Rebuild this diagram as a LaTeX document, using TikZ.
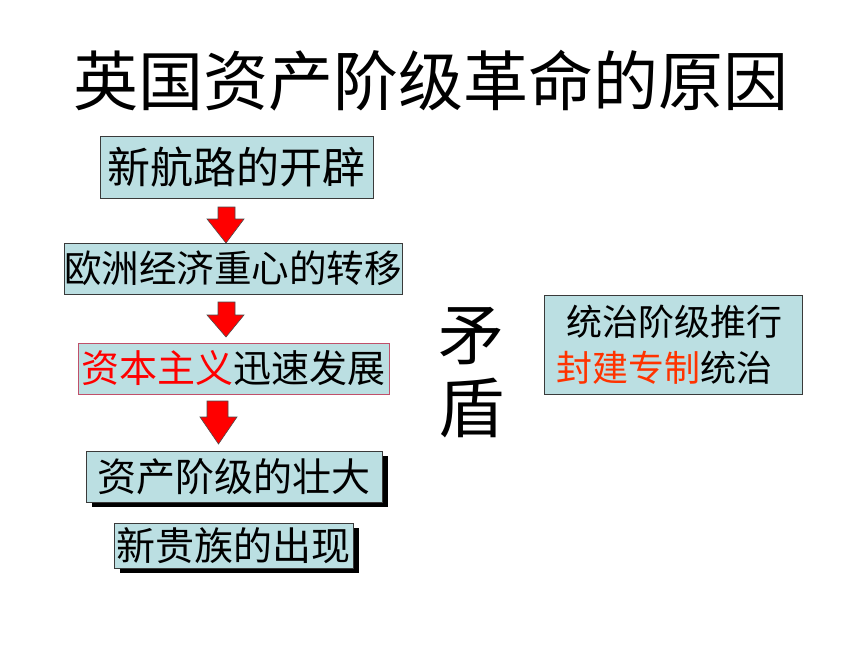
\documentclass[tikz,border=0pt]{standalone}
\usepackage{fontspec}
\usepackage{graphicx}
\setmainfont{Noto Sans CJK SC}
\definecolor{boxfill}{HTML}{BBDFE2}
\definecolor{boxline}{HTML}{3A3A3A}
\definecolor{redline}{HTML}{C0506A}
\definecolor{orangered}{HTML}{FF3300}
\tikzset{
  box/.style={draw=boxline, line width=0.9pt, fill=boxfill, inner sep=0pt},
  shadowbox/.style={fill=black, inner sep=0pt},
  txt/.style={inner sep=0pt, text=black},
  blockarr/.style={fill=red, draw=black!70, line width=0.6pt, line join=miter},
}
\begin{document}
\begin{tikzpicture}[x=1pt,y=-1pt]
\useasboundingbox[fill=white] (0,0) rectangle (860,645);
% title
\node[txt, font=\fontsize{65}{65}\selectfont] (title) at (431,81) {英国资产阶级革命的原因};
% box 1
\node[box, minimum width=273pt, minimum height=62pt] (b1) at (236.5,167) {};
\node[txt, font=\fontsize{43}{43}\selectfont] (t1) at (b1.center) {新航路的开辟};
% box 2
\node[box, minimum width=338pt, minimum height=51pt] (b2) at (233,268.5) {};
\node[txt, font=\fontsize{40}{40}\selectfont] (t2) at (b2.center) {\resizebox{338pt}{!}{欧洲经济重心的转移}};
% box 3
\node[box, draw=redline, minimum width=311pt, minimum height=51pt] (b3) at (233.5,368.5) {};
\node[txt, font=\fontsize{38}{38}\selectfont] (t3) at (b3.center) {\textcolor{red}{资本主义}迅速发展};
% box 4 with shadow
\node[shadowbox, minimum width=296pt, minimum height=51pt] (s4) at (240,481.5) {};
\node[box, minimum width=296pt, minimum height=51pt] (b4) at (234,476.5) {};
\node[txt, font=\fontsize{39}{39}\selectfont] (t4) at (b4.center) {资产阶级的壮大};
% box 5 with shadow
\node[shadowbox, minimum width=239pt, minimum height=45pt] (s5) at (239.5,550.5) {};
\node[box, minimum width=239pt, minimum height=45pt] (b5) at (233.5,545.5) {};
\node[txt, font=\fontsize{39}{39}\selectfont] (t5) at (b5.center) {新贵族的出现};
% block arrows
\coordinate (a1) at (226,207);
\draw[blockarr] (218,207) -- (235,207) -- (235,219) -- (244,219) -- (226,243) -- (207,219) -- (218,219) -- cycle;
\coordinate (a2) at (226,302);
\draw[blockarr] (218,302) -- (235,302) -- (235,315) -- (244,315) -- (226,337) -- (207,315) -- (218,315) -- cycle;
\coordinate (a3) at (218,401);
\draw[blockarr] (207,401) -- (228,401) -- (228,417) -- (237,417) -- (218.5,444) -- (200,417) -- (207,417) -- cycle;
% contradiction
\node[txt, font=\fontsize{66}{66}\selectfont] (m1) at (471,336) {矛};
\node[txt, font=\fontsize{66}{66}\selectfont] (m2) at (471,408) {盾};
% right box
\node[box, minimum width=258pt, minimum height=99pt] (r) at (673,344.5) {};
\node[txt, font=\fontsize{36}{36}\selectfont] (r1) at (674,322) {统治阶级推行};
\node[txt, font=\fontsize{36}{36}\selectfont] (r2) at (664,368) {\textcolor{orangered}{封建专制}统治};
\end{tikzpicture}
\end{document}
